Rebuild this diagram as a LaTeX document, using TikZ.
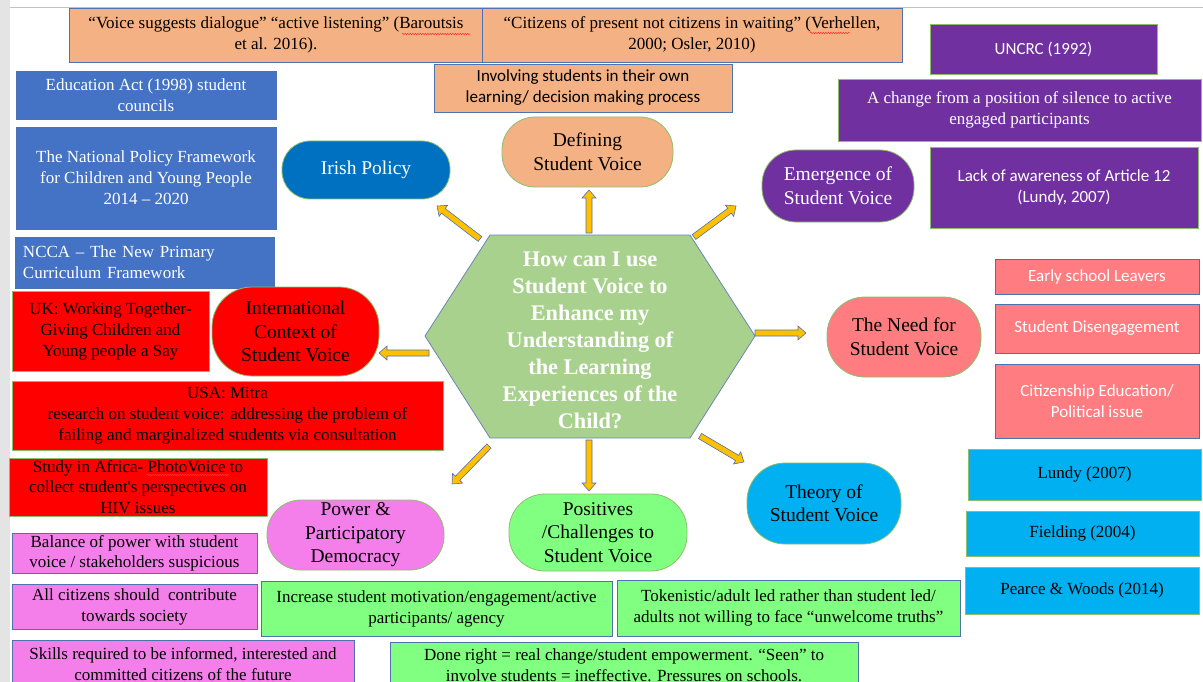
\documentclass[tikz,border=0pt]{standalone}
\usepackage{fontspec}
\setmainfont{Liberation Serif}
\newfontfamily\calfont{Carlito}
\usetikzlibrary{calc,decorations.pathmorphing}

\definecolor{orangeF}{HTML}{F4B183}
\definecolor{blueBox}{HTML}{4472C4}
\definecolor{irishBlue}{HTML}{0070C0}
\definecolor{redF}{HTML}{FF0000}
\definecolor{magF}{HTML}{F57FEA}
\definecolor{greenF}{HTML}{80FF80}
\definecolor{hexF}{HTML}{A9D18E}
\definecolor{cyanF}{HTML}{00B0F0}
\definecolor{pinkF}{HTML}{FF7C80}
\definecolor{purpF}{HTML}{7030A0}
\definecolor{gold}{HTML}{FFC000}
\definecolor{lineBlue}{HTML}{4F71B0}
\definecolor{lineGreen}{HTML}{8CBF6C}
\definecolor{hexLine}{HTML}{6C86B4}
\definecolor{pageGrey}{HTML}{E4E4E4}

% straight typewriter apostrophe
\newcommand\straightquote{{\addfontfeature{Ligatures=TeXOff}'}}

% block arrow from coordinate #1 to coordinate #2
\newcommand\blockarrow[2]{%
  \path let \p1=($(#2)-(#1)$) in
    \pgfextra{\pgfmathsetmacro\baang{atan2(\y1,\x1)}%
      \pgfmathsetmacro\balen{veclen(\x1,\y1)}%
      \global\let\baang\baang\global\let\balen\balen};
  \draw[blockarr, shift={(#1)}, rotate=\baang, x=1pt, y=1pt]
    (0,-3) -- ({\balen-8},-3) -- ({\balen-8},-7) -- (\balen,0)
    -- ({\balen-8},7) -- ({\balen-8},3) -- (0,3) -- cycle;}

\begin{document}
\begin{tikzpicture}[x=1pt, y=-1pt,
  box/.style={draw, line width=0.8pt, inner sep=0pt, align=center,
    font=\fontsize{17}{21}\selectfont},
  sans/.style={font=\calfont\fontsize{17}{21}\selectfont},
  pill/.style={box, rounded corners=#1, font=\fontsize{19.5}{23.5}\selectfont},
  pill/.default=30pt,
  dims/.style 2 args={minimum width=#1pt, minimum height=#2pt},
  orangebox/.style={box, fill=orangeF, draw=lineBlue},
  bluebox/.style={box, fill=blueBox, draw=lineBlue, text=white},
  redbox/.style={box, fill=redF, draw=lineGreen},
  magbox/.style={box, fill=magF, draw=lineBlue},
  greenbox/.style={box, fill=greenF, draw=lineBlue},
  cyanbox/.style={box, fill=cyanF, draw=lineGreen},
  pinkbox/.style={box, sans, fill=pinkF, draw=lineBlue, text=white},
  purpbox/.style={box, fill=purpF, draw=lineGreen, text=white},
  blockarr/.style={fill=gold, draw=lineBlue, line width=0.6pt, line join=miter},
  spell/.style={draw=red!80, line width=0.5pt, decorate,
    decoration={snake, amplitude=0.7pt, segment length=2.5pt}},
]
\path[use as bounding box, fill=white] (0,0) rectangle (1203,682);
\clip (0,0) rectangle (1203,682);

% page edge
\fill[pageGrey] (0,0) rectangle (10,682);
\draw[pageGrey!85!black, line width=0.8pt] (10,7) -- (1203,7);

% central hexagon
\filldraw[fill=hexF, draw=hexLine, line width=0.8pt]
  (425,336) -- (490,235) -- (690,235) -- (755,336) -- (690,438) -- (490,438) -- cycle;
\node[align=center, text=white, font=\bfseries\fontsize{22.3}{27}\selectfont]
  (hub) at (590,340) {How can I use\\Student Voice to\\Enhance my\\Understanding of\\the Learning\\Experiences of the\\Child?};

% top: defining student voice
\node[orangebox, dims={414}{54}] (q1) at (276,35)
  {“Voice suggests dialogue” “active listening” (Baroutsis\\et al. 2016).};
\node[orangebox, dims={420}{54}] (q2) at (692,35)
  {“Citizens of present not citizens in waiting” (Verhellen,\\2000; Osler, 2010)};
\node[orangebox, sans, dims={298}{48}] (inv) at (583,88)
  {Involving students in their own\\learning/ decision making process};
\node[pill=33pt, fill=orangeF, draw=lineGreen, dims={171}{70}] (def) at (587.5,152)
  {Defining\\Student Voice};

% Irish policy
\node[pill=28pt, fill=irishBlue, draw=lineGreen, text=white, dims={168}{58}] (irish) at (366,170)
  {Irish Policy};
\node[bluebox, dims={260}{48}] (edu) at (146,95) {Education Act (1998) student\\councils};
\node[bluebox, dims={260}{102}] (nat) at (146,178)
  {The National Policy Framework\\for Children and Young People\\2014 – 2020};
\node[bluebox, dims={259}{51}, align=left, text width=243pt] (ncca) at (144.5,262.5)
  {NCCA – The New Primary\\Curriculum Framework};

% international context
\node[redbox, dims={197}{80}] (uk) at (110.5,331)
  {UK: Working Together-\\Giving Children and\\Young people a Say};
\node[pill=40pt, fill=redF, draw=lineGreen, dims={167}{89}] (intl) at (295.5,331.5)
  {International\\Context of\\Student Voice};
\node[redbox, dims={431}{69}] (usa) at (227.5,415.5)
  {USA: Mitra\\research on student voice: addressing the problem of\\failing and marginalized students via consultation};
\node[redbox, dims={258}{58}, font=\fontsize{17}{20.5}\selectfont] (africa) at (138,487)
  {Study in Africa- PhotoVoice to\\collect student\straightquote s perspectives on\\HIV issues};

% power and participatory democracy
\node[pill=34pt, fill=magF, draw=lineGreen, dims={177}{70}] (power) at (355.5,535)
  {Power \&\\Participatory\\Democracy};
\node[magbox, dims={245}{40}, font=\fontsize{17}{20}\selectfont] (balance) at (134.5,553)
  {Balance of power with student\\voice / stakeholders suspicious};
\node[magbox, dims={245}{45}] (allcit) at (134.5,606.5)
  {All citizens should\ \ contribute\\towards society};
\node[magbox, dims={342}{48}] (skills) at (183,664)
  {Skills required to be informed, interested and\\committed citizens of the future};

% positives and challenges
\node[pill=36pt, fill=greenF, draw=lineGreen, dims={178}{77}] (pos) at (598,532.5)
  {Positives\\/Challenges to\\Student Voice};
\node[greenbox, dims={351}{55}] (incr) at (436.5,608.5)
  {Increase student motivation/engagement/active\\participants/ agency};
\node[greenbox, dims={343}{56}] (tok) at (788.5,608)
  {Tokenistic/adult led rather than student led/\\adults not willing to face “unwelcome truths”};
\node[greenbox, dims={468}{46}] (done) at (624,665)
  {Done right = real change/student empowerment. “Seen” to\\involve students = ineffective. Pressures on schools.};

% theory of student voice
\node[pill=38pt, fill=cyanF, draw=lineGreen, dims={154}{81}] (theory) at (824,503.5)
  {Theory of\\Student Voice};
\node[cyanbox, dims={233}{51}] (lundy) at (1084.5,474.5) {Lundy (2007)};
\node[cyanbox, dims={233}{45}] (fielding) at (1082.5,533.5) {Fielding (2004)};
\node[cyanbox, dims={234}{47}] (pearce) at (1082,590.5) {Pearce \& Woods (2014)};

% the need for student voice
\node[pill=38pt, fill=pinkF, draw=lineGreen, dims={154}{80}] (need) at (904,337)
  {The Need for\\Student Voice};
\node[pinkbox, dims={204}{35}] (early) at (1097,276.5) {Early school Leavers};
\node[pinkbox, dims={204}{49}] (diseng) at (1097,328.5) {Student Disengagement};
\node[pinkbox, dims={204}{74}] (citiz) at (1097,401) {Citizenship Education/\\Political issue};

% emergence of student voice
\node[pill=34pt, fill=purpF, draw=lineGreen, text=white, dims={152}{72}] (emerg) at (838,186)
  {Emergence of\\Student Voice};
\node[purpbox, sans, dims={227}{50}] (uncrc) at (1043.5,49) {UNCRC (1992)};
\node[purpbox, dims={363}{62}] (change) at (1019.5,110)
  {A change from a position of silence to active\\engaged participants};
\node[purpbox, sans, dims={268}{81}] (lack) at (1064,187.5)
  {Lack of awareness of Article 12\\(Lundy, 2007)};

% arrow end points around the hexagon
\coordinate (a1s) at (480,239);  \coordinate (a1e) at (437,206);
\coordinate (a2s) at (589,233);  \coordinate (a2e) at (589,190);
\coordinate (a3s) at (694,237);  \coordinate (a3e) at (736,206);
\coordinate (a4s) at (755,333);  \coordinate (a4e) at (806,333);
\coordinate (a5s) at (429,353);  \coordinate (a5e) at (379,353);
\coordinate (a6s) at (489,446);  \coordinate (a6e) at (452,484);
\coordinate (a7s) at (589,440);  \coordinate (a7e) at (589,491);
\coordinate (a8s) at (700,436);  \coordinate (a8e) at (744,462);

\blockarrow{a1s}{a1e}
\blockarrow{a2s}{a2e}
\blockarrow{a3s}{a3e}
\blockarrow{a4s}{a4e}
\blockarrow{a5s}{a5e}
\blockarrow{a6s}{a6e}
\blockarrow{a7s}{a7e}
\blockarrow{a8s}{a8e}

% spelling marks under unknown words
\draw[spell] (402,34) -- (470,34);
\draw[spell] (810,33) -- (850,33);
\draw[spell] (147,475) -- (229,475);
\end{tikzpicture}
\end{document}
